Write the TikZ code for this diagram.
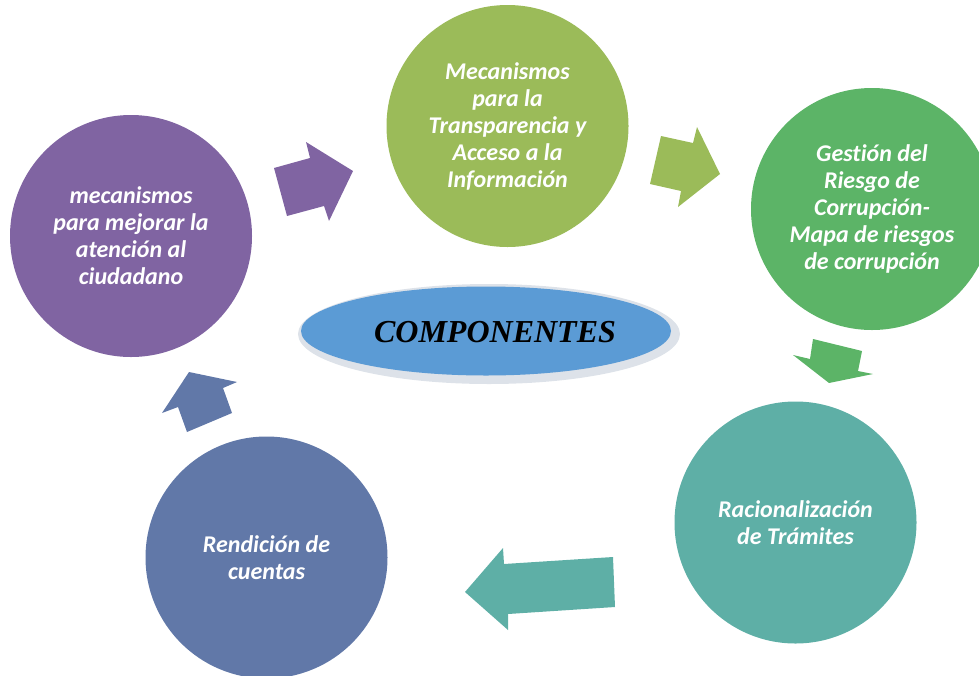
\documentclass[tikz,border=0pt]{standalone}
\usepackage{fontspec}
\setmainfont{Liberation Serif}
\newfontfamily\circfont[Ligatures=NoCommon]{Carlito}
\usepackage{tikz}
\usetikzlibrary{shapes.geometric}
\definecolor{olivegr}{HTML}{9BBB59}
\definecolor{riskgr}{HTML}{5CB467}
\definecolor{tealgr}{HTML}{5EAFA6}
\definecolor{bluegr}{HTML}{6178A8}
\definecolor{purplegr}{HTML}{8064A2}
\definecolor{compblue}{HTML}{5B9BD5}
\definecolor{rimgray}{HTML}{DDE2E9}

\begin{document}
\begin{tikzpicture}[x=1pt,y=-1pt,
		comp/.style={circle, inner sep=0pt, minimum size=242pt, text=white, align=center,
			font=\circfont\bfseries\itshape\fontsize{24}{27}\selectfont},
		blockarrow/.style={draw=none}]
				\useasboundingbox (0,0) rectangle (979,675);
				% los cinco componentes
				\node[comp, fill=olivegr] (transp) at (507.5,126) {Mecanismos\\para la\\Transparencia y\\Acceso a la\\Información};
				\node[comp, fill=riskgr] (riesgo) at (872,209) {Gestión del\\Riesgo de\\Corrupción-\\Mapa de riesgos\\de corrupción};
				\node[comp, fill=tealgr] (tramites) at (795.5,522.5) {Racionalización\\de Trámites};
				\node[comp, fill=bluegr] (cuentas) at (266.5,557.5) {Rendición de\\cuentas};
				\node[comp, fill=purplegr] (ciudadano) at (131,236) {mecanismos\\para mejorar la\\atención al\\ciudadano};
				% elipse central
				\fill[rimgray] (489,334) ellipse [x radius=191, y radius=50];
				\node[ellipse, fill=compblue, minimum width=370pt, minimum height=89pt, inner sep=0pt] (centro) at (486,331) {};
				\node[font=\bfseries\itshape\fontsize{32}{36}\selectfont] (centrotxt) at (495,332) {COMPONENTES};
				% flechas
				\fill[purplegr, blockarrow] (274,168) -- (310,158) -- (306,142) -- (353,171) -- (329,221) -- (324,206) -- (287,216) -- cycle;
				\fill[olivegr, blockarrow] (661,136) -- (693,143) -- (697,127) -- (720,174) -- (678,207) -- (681,191) -- (650,184) -- cycle;
				\fill[riskgr, blockarrow] (813,339) -- (862,351) -- (858,371) -- (873,374) -- (829,383) -- (793,355) -- (810,359) -- cycle;
				\fill[tealgr, blockarrow] (613,557) -- (615,607) -- (508,614) -- (508,630) -- (465,592) -- (503,548) -- (504,564) -- cycle;
				\fill[bluegr, blockarrow] (162,413) -- (189,372) -- (237,382) -- (223,388) -- (232,413) -- (187,432) -- (178,407) -- cycle;
			\end{tikzpicture}
\end{document}
